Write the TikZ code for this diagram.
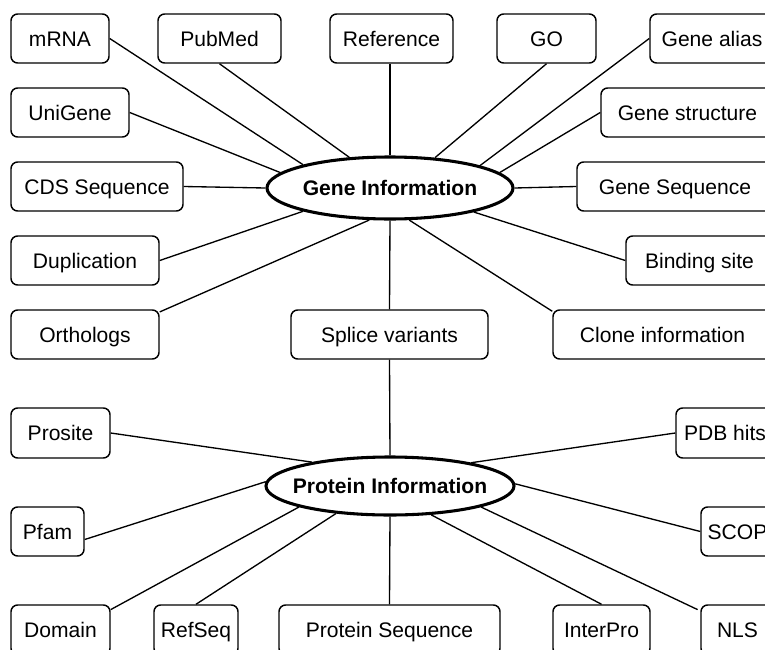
\documentclass[tikz,border=0pt]{standalone}
\usepackage{fontspec}
\setmainfont{Liberation Sans}
\usetikzlibrary{shapes.geometric}
\begin{document}
\begin{tikzpicture}[x=0.75pt,y=-0.75pt,
  rbox/.style 2 args={draw, rounded corners=5pt, line width=1.1pt, inner sep=0pt,
    text height=14pt, text depth=2.7pt,
    minimum width=#1*0.75pt, minimum height=#2*0.75pt, font=\fontsize{15.8}{18}\selectfont},
  hub/.style 2 args={draw, ellipse, line width=2.3pt, inner sep=0pt,
    text height=14pt, text depth=2.7pt,
    minimum width=#1*0.75pt, minimum height=#2*0.75pt, font=\fontsize{15.8}{18}\selectfont\bfseries},
  link/.style={line width=1pt}]
\useasboundingbox (0,0) rectangle (765,650);
\clip (0,0) rectangle (765,650);

% hubs
\node[hub={246}{62}] (gi) at (390,188) {\makebox[0pt]{Gene Information}};
\node[hub={248}{58}] (pi) at (390,486) {\makebox[0pt]{Protein Information}};

% gene boxes
\node[rbox={98}{49}]  (mrna) at (60,38.5) {mRNA};
\node[rbox={123}{49}] (pubmed) at (219.5,38.5) {PubMed};
\node[rbox={123}{49}] (ref) at (391.5,38.5) {Reference};
\node[rbox={99}{49}]  (go) at (546.5,38.5) {GO};
\node[rbox={124}{49}] (alias) at (712,38.5) {Gene alias};
\node[rbox={118}{49}] (unigene) at (70,112.5) {UniGene};
\node[rbox={173}{49}] (struct) at (687.5,112.5) {Gene structure};
\node[rbox={172}{49}] (cds) at (97,186.5) {CDS Sequence};
\node[rbox={196}{49}] (gseq) at (675,186.5) {Gene Sequence};
\node[rbox={148}{49}] (dup) at (85,260.5) {Duplication};
\node[rbox={147}{49}] (bind) at (699.5,260.5) {Binding site};
\node[rbox={148}{49}] (orth) at (85,334.5) {Orthologs};
\node[rbox={197}{49}] (splice) at (389.5,334.5) {Splice variants};
\node[rbox={219}{49}] (clone) at (662.5,334.5) {Clone information};

% protein boxes
\node[rbox={99}{50}]  (prosite) at (60.5,433) {Prosite};
\node[rbox={98}{50}]  (pdb) at (725,433) {PDB hits};
\node[rbox={73}{49}]  (pfam) at (47.5,531.5) {Pfam};
\node[rbox={73}{49}]  (scop) at (737.5,531.5) {SCOP};
\node[rbox={99}{50}]  (domain) at (60.5,630) {Domain};
\node[rbox={84}{50}]  (refseq) at (196,630) {RefSeq};
\node[rbox={221}{50}] (pseq) at (389.5,630) {Protein Sequence};
\node[rbox={97}{50}]  (interpro) at (601.5,630) {InterPro};
\node[rbox={73}{50}]  (nls) at (737.5,630) {NLS};

% gene links
\draw[link] (mrna.east) -- (gi.165);
\draw[link] (pubmed.south) -- (gi.143.6);
\draw[link] (ref.south -| gi.north) -- (gi.north);
\draw[link] (go.south) -- (gi.34.6);
\draw[link] (alias.west) -- (gi.14.3);
\draw[link] (unigene.east) -- (gi.172.2);
\draw[link] (struct.west) -- (gi.8.1);
\draw[link] (cds.east) -- (gi.west);
\draw[link] (gseq.west) -- (gi.east);
\draw[link] (dup.east) -- (gi.195.5);
\draw[link] ([yshift=-2pt]orth.north east) -- (gi.237.7);
\draw[link] (splice.north) -- (gi.south);
\draw[link] ([yshift=-1.5pt]clone.north west) -- (gi.301.3);
\draw[link] (bind.west) -- (gi.344.5);

% protein links
\draw[link] (splice.south) -- (pi.north);
\draw[link] (prosite.east) -- (pi.163.3);
\draw[link] (pdb.west) -- (pi.16.7);
\draw[link] ([yshift=-6pt]pfam.east) -- (pi.178.6);
\draw[link] (scop.west) -- (pi.1.4);
\draw[link] ([yshift=-4pt]domain.north east) -- (pi.193.1);
\draw[link] (refseq.north) -- (pi.207.4);
\draw[link] (pseq.north) -- (pi.south);
\draw[link] (interpro.north) -- (pi.325.3);
\draw[link] ([xshift=-2pt,yshift=-4pt]nls.north west) -- (pi.347.5);
\end{tikzpicture}
\end{document}
